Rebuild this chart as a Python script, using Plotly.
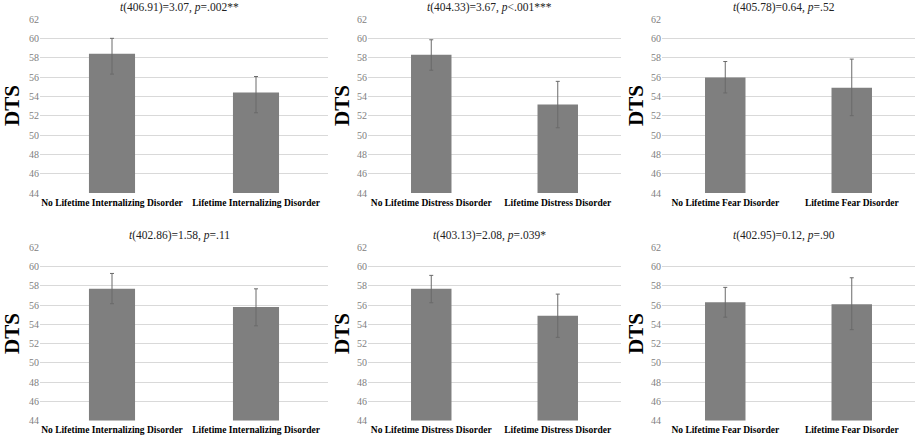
import plotly.graph_objects as go

# ---- data ----
cats_int = ["No Lifetime Internalizing Disorder", "Lifetime Internalizing Disorder"]
cats_dis = ["No Lifetime Distress Disorder", "Lifetime Distress Disorder"]
cats_fear = ["No Lifetime Fear Disorder", "Lifetime Fear Disorder"]

# top row
top_int_mean = [58.4, 54.4]
top_int_hi = [60.0, 56.05]
top_int_lo = [56.3, 52.3]
top_dis_mean = [58.3, 53.15]
top_dis_hi = [59.85, 55.55]
top_dis_lo = [56.7, 50.75]
top_fear_mean = [55.95, 54.9]
top_fear_hi = [57.6, 57.85]
top_fear_lo = [54.35, 52.0]
# bottom row
bot_int_mean = [57.7, 55.8]
bot_int_hi = [59.3, 57.7]
bot_int_lo = [56.15, 53.85]
bot_dis_mean = [57.7, 54.9]
bot_dis_hi = [59.1, 57.15]
bot_dis_lo = [56.25, 52.65]
bot_fear_mean = [56.3, 56.1]
bot_fear_hi = [57.85, 58.85]
bot_fear_lo = [54.75, 53.45]

titles = [
    "<i>t</i>(406.91)=3.07, <i>p</i>=.002**",
    "<i>t</i>(404.33)=3.67, <i>p</i><.001***",
    "<i>t</i>(405.78)=0.64, <i>p</i>=.52",
    "<i>t</i>(402.86)=1.58, <i>p</i>=.11",
    "<i>t</i>(403.13)=2.08, <i>p</i>=.039*",
    "<i>t</i>(402.95)=0.12, <i>p</i>=.90",
]
y_ticks = [44, 46, 48, 50, 52, 54, 56, 58, 60, 62]

panels = [
    (cats_int, top_int_mean, top_int_hi, top_int_lo),
    (cats_dis, top_dis_mean, top_dis_hi, top_dis_lo),
    (cats_fear, top_fear_mean, top_fear_hi, top_fear_lo),
    (cats_int, bot_int_mean, bot_int_hi, bot_int_lo),
    (cats_dis, bot_dis_mean, bot_dis_hi, bot_dis_lo),
    (cats_fear, bot_fear_mean, bot_fear_hi, bot_fear_lo),
]

W, H = 920, 441
x_px = [(40, 328), (368, 621), (662, 915)]
y_px = [(19, 193), (247.5, 420.5)]
dts_x = [12, 342, 636]

SERIF = "Liberation Serif, Times New Roman, serif"
fig = go.Figure()
layout = dict(
    width=W, height=H, margin=dict(l=0, r=0, t=0, b=0),
    paper_bgcolor="white", plot_bgcolor="white", showlegend=False,
    bargap=0.68, font=dict(family=SERIF),
)
annotations = []
for i, (cats, mean, hi, lo) in enumerate(panels):
    r, c = divmod(i, 3)
    n = i + 1
    xa = "x" if n == 1 else f"x{n}"
    ya = "y" if n == 1 else f"y{n}"
    plus = [h - m for h, m in zip(hi, mean)]
    minus = [m - l for m, l in zip(mean, lo)]
    fig.add_trace(go.Bar(
        x=cats, y=mean, xaxis=xa, yaxis=ya,
        marker=dict(color="#7f7f7f", line=dict(width=0)),
        error_y=dict(type="data", array=plus, arrayminus=minus, symmetric=False,
                     color="#6a6a6a", thickness=1, width=2),
    ))
    x0, x1 = x_px[c]
    yt, yb = y_px[r]
    layout["xaxis" if n == 1 else f"xaxis{n}"] = dict(
        domain=[x0 / W, x1 / W], anchor=ya, showgrid=False, zeroline=False,
        showline=False, ticks="", tickangle=0, ticklabelstandoff=2, automargin=False,
        tickfont=dict(family=SERIF, size=9.5, color="black", weight="bold"),
    )
    layout["yaxis" if n == 1 else f"yaxis{n}"] = dict(
        domain=[(H - yb) / H, (H - yt) / H], anchor=xa, range=[44, 62],
        tickvals=y_ticks, showgrid=True, gridcolor="#d9d9d9", gridwidth=1,
        zeroline=False, showline=False, ticks="", automargin=False,
        tickfont=dict(family=SERIF, size=10, color="#808080"),
    )
    annotations.append(dict(
        text=titles[i], xref="paper", yref="paper",
        x=(x0 + x1) / 2 / W - 0.005, y=(H - yt + 12) / H, xanchor="center", yanchor="middle",
        showarrow=False, font=dict(family=SERIF, size=11.5, color="#222222"),
    ))
    annotations.append(dict(
        text="<b>DTS</b>", xref="paper", yref="paper", textangle=-90,
        x=dts_x[c] / W, y=(H - (yt + yb) / 2) / H, xanchor="center", yanchor="middle",
        showarrow=False, font=dict(family=SERIF, size=21, color="black"),
    ))
layout["annotations"] = annotations
fig.update_layout(**layout)
fig.write_html(
    "out.html",
    config={"displayModeBar": False},
    post_script="document.body.style.margin='0';document.body.style.overflow='hidden';",
)
